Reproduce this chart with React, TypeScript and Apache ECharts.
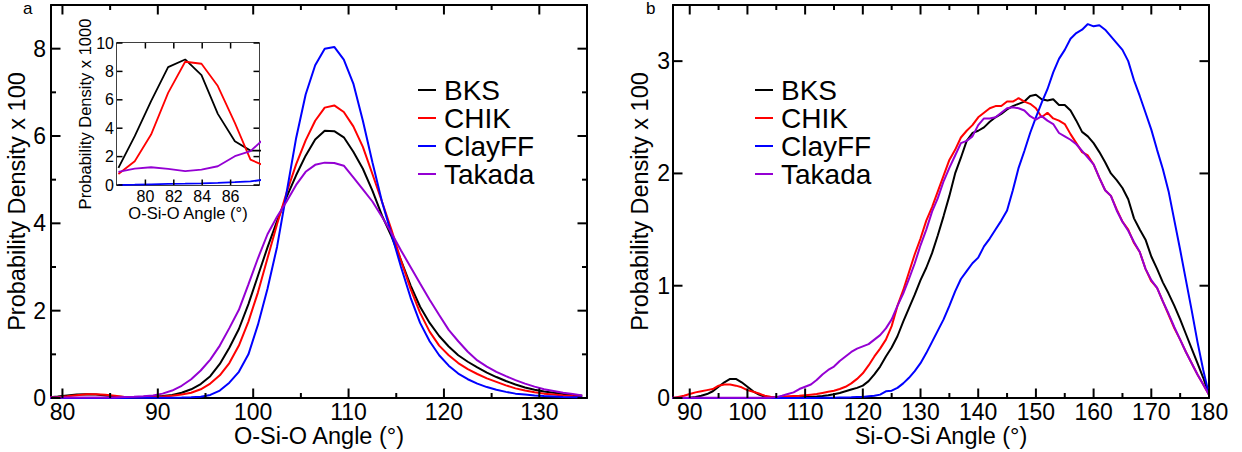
import React, { useEffect, useRef } from "react";
import * as echarts from "echarts";

const FONT = "'Liberation Sans', Arial, Helvetica, sans-serif";

const seriesNames = ["BKS", "CHIK", "ClayFF", "Takada"];
const seriesColors = ["#000000", "#ff0000", "#0000ff", "#9400d3"];

// ---- Panel a: O-Si-O angle distribution ----
const osioAngles = [
  78.5, 79.5, 80.5, 81.5, 82.5, 83.5, 84.5, 85.5, 86.5, 87.5, 88.5, 89.5, 90.5, 91.5, 92.5,
  93.5, 94.5, 95.5, 96.5, 97.5, 98.5, 99.5, 100.5, 101.5, 102.5, 103.5, 104.5, 105.5, 106.5, 107.5, 108.5,
  109.5, 110.5, 111.5, 112.5, 113.5, 114.5, 115.5, 116.5, 117.5, 118.5, 119.5, 120.5, 121.5, 122.5,
  123.5, 124.5, 125.5, 126.5, 127.5, 128.5, 129.5, 130.5, 131.5, 132.5, 133.5, 134.5,
];
const osioBKS = [
  0.015, 0.035, 0.06, 0.083, 0.088, 0.08, 0.058, 0.035, 0.025, 0.024, 0.026, 0.032, 0.045, 0.07, 0.12,
  0.2, 0.32, 0.5, 0.78, 1.15, 1.58, 2.15, 2.8, 3.45, 4.05, 4.6, 5.1, 5.55, 5.92, 6.12, 6.11,
  5.97, 5.64, 5.25, 4.75, 4.18, 3.7, 3.15, 2.58, 2.09, 1.72, 1.42, 1.18, 0.98, 0.83,
  0.7, 0.58, 0.48, 0.39, 0.31, 0.24, 0.19, 0.15, 0.12, 0.09, 0.07, 0.05,
];
const osioCHIK = [
  0.008, 0.02, 0.04, 0.064, 0.086, 0.086, 0.074, 0.05, 0.022, 0.015, 0.016, 0.022, 0.032, 0.05, 0.08,
  0.12, 0.2, 0.33, 0.52, 0.8, 1.2, 1.75, 2.42, 3.2, 3.98, 4.7, 5.35, 5.9, 6.35, 6.65, 6.7,
  6.55, 6.22, 5.75, 5.13, 4.5, 3.85, 3.15, 2.5, 1.95, 1.52, 1.2, 0.98, 0.8, 0.66,
  0.55, 0.45, 0.37, 0.29, 0.22, 0.17, 0.13, 0.1, 0.08, 0.06, 0.045, 0.035,
];
const osioClayFF = [
  0.0, 0.0, 0.0, 0.001, 0.001, 0.001, 0.001, 0.002, 0.002, 0.003, 0.004, 0.005, 0.006, 0.008, 0.01,
  0.015, 0.03, 0.07, 0.17, 0.35, 0.6, 1.0, 1.68, 2.5, 3.46, 4.7, 5.95, 6.95, 7.62, 8.0, 8.04,
  7.75, 7.2, 6.35, 5.4, 4.5, 3.75, 3.0, 2.3, 1.72, 1.3, 0.98, 0.74, 0.56, 0.43,
  0.33, 0.25, 0.19, 0.14, 0.1, 0.08, 0.06, 0.045, 0.035, 0.025, 0.02, 0.015,
];
const osioTakada = [
  0.009, 0.011, 0.012, 0.012, 0.011, 0.01, 0.011, 0.014, 0.021, 0.028, 0.04, 0.06, 0.1, 0.17, 0.28,
  0.43, 0.63, 0.88, 1.2, 1.6, 2.02, 2.6, 3.2, 3.75, 4.15, 4.5, 4.88, 5.18, 5.34, 5.39, 5.38,
  5.32, 5.05, 4.78, 4.5, 4.15, 3.78, 3.38, 3.0, 2.62, 2.25, 1.9, 1.56, 1.3, 1.06,
  0.86, 0.72, 0.6, 0.5, 0.41, 0.33, 0.26, 0.2, 0.16, 0.12, 0.09, 0.06,
];
const osioXTicks = [80, 90, 100, 110, 120, 130];
const osioXMinor = [85, 95, 105, 115, 125];
const osioYTicks = [0, 2, 4, 6, 8];
const osioYMinor = [1, 3, 5, 7];

// ---- Inset of panel a ----
const insetAngles = [78.1, 79.25, 80.4, 81.6, 82.8, 83.95, 85.1, 86.3, 87.4, 88.5];
const insetBKS = [1.2, 3.44, 5.9, 8.3, 8.84, 7.74, 5.01, 3.08, 2.42, 2.42];
const insetCHIK = [0.78, 1.67, 3.55, 6.49, 8.68, 8.54, 6.97, 4.38, 1.79, 1.3];
const insetClayFF = [0.0, 0.02, 0.05, 0.08, 0.1, 0.12, 0.15, 0.2, 0.25, 0.4];
const insetTakada = [0.92, 1.15, 1.25, 1.13, 0.97, 1.08, 1.32, 2.03, 2.38, 3.4];
const insetXTicks = [80, 82, 84, 86];
const insetYTicks = [0, 2, 4, 6, 8, 10];

// ---- Panel b: Si-O-Si angle distribution ----
const sioAngles = [
  87, 88, 89, 90, 91, 92, 93, 94, 95, 96,
  97, 98, 99, 100, 101, 102, 103, 104, 105, 106,
  107, 108, 109, 110, 111, 112, 113, 114, 115, 116,
  117, 118, 119, 120, 121, 122, 123, 124, 125, 126,
  127, 128, 129, 130, 131, 132, 133, 134, 135, 136,
  137, 138, 139, 140, 141, 142, 143, 144, 145, 146,
  147, 148, 149, 150, 151, 152, 153, 154, 155, 156,
  157, 158, 159, 160, 161, 162, 163, 164, 165, 166,
  167, 168, 169, 170, 171, 172, 173, 174, 175, 176,
  177, 178, 179, 180,
];
const sioBKS = [
  0, 0, 0.001, 0.003, 0.01, 0.02, 0.035, 0.06, 0.1, 0.14,
  0.17, 0.17, 0.14, 0.1, 0.06, 0.03, 0.012, 0.005, 0.003, 0.003,
  0.004, 0.005, 0.006, 0.008, 0.01, 0.013, 0.017, 0.024, 0.033, 0.045,
  0.06, 0.075, 0.09, 0.11, 0.15, 0.21, 0.28, 0.37, 0.45, 0.55,
  0.68, 0.8, 0.92, 1.05, 1.16, 1.29, 1.45, 1.62, 1.8, 2.0,
  2.14, 2.29, 2.36, 2.38, 2.41, 2.46, 2.5, 2.53, 2.57, 2.6,
  2.62, 2.64, 2.69, 2.7, 2.66, 2.65, 2.66, 2.61, 2.61, 2.56,
  2.47, 2.37, 2.33, 2.27, 2.19, 2.1, 2.0, 1.94, 1.87, 1.77,
  1.6, 1.5, 1.41, 1.26, 1.15, 1.03, 0.93, 0.82, 0.7, 0.57,
  0.44, 0.31, 0.18, 0.03,
];
const sioCHIK = [
  0, 0.01, 0.02, 0.035, 0.05, 0.06, 0.07, 0.08, 0.11, 0.12,
  0.12, 0.11, 0.095, 0.07, 0.055, 0.04, 0.02, 0.012, 0.01, 0.012,
  0.015, 0.018, 0.02, 0.025, 0.03, 0.035, 0.045, 0.055, 0.065, 0.08,
  0.1, 0.13, 0.17, 0.22, 0.29, 0.37, 0.44, 0.52, 0.64, 0.82,
  0.96, 1.12, 1.28, 1.42, 1.58, 1.7, 1.84, 1.98, 2.12, 2.21,
  2.32, 2.38, 2.43, 2.5, 2.54, 2.58, 2.6, 2.6, 2.64, 2.64,
  2.67, 2.64, 2.62, 2.58, 2.5, 2.54, 2.49, 2.47, 2.44, 2.35,
  2.27, 2.19, 2.16, 2.08, 1.96, 1.85, 1.8, 1.68, 1.57, 1.5,
  1.38, 1.3, 1.15, 1.04, 0.98, 0.86, 0.74, 0.62, 0.52, 0.41,
  0.31, 0.21, 0.12, 0.03,
];
const sioClayFF = [
  0, 0, 0, 0, 0, 0, 0, 0, 0, 0,
  0, 0, 0, 0, 0, 0, 0, 0, 0, 0,
  0, 0, 0, 0, 0.001, 0.001, 0.002, 0.002, 0.003, 0.004,
  0.005, 0.006, 0.008, 0.01, 0.015, 0.02, 0.03, 0.06, 0.065, 0.09,
  0.13, 0.18, 0.24, 0.31, 0.4, 0.5, 0.6, 0.7, 0.82, 0.95,
  1.06, 1.13, 1.2, 1.25, 1.35, 1.42, 1.5, 1.58, 1.67, 1.85,
  2.05, 2.2, 2.36, 2.5, 2.63, 2.75, 2.9, 3.02, 3.1, 3.2,
  3.25, 3.28, 3.33, 3.31, 3.32, 3.28, 3.22, 3.16, 3.1, 3.0,
  2.83, 2.69, 2.54, 2.39, 2.21, 2.04, 1.84, 1.58, 1.32, 1.05,
  0.78, 0.5, 0.25, 0.03,
];
const sioTakada = [
  0.003, 0.003, 0.003, 0.003, 0.003, 0.003, 0.003, 0.003, 0.003, 0.003,
  0.003, 0.003, 0.003, 0.003, 0.003, 0.003, 0.003, 0.003, 0.008, 0.02,
  0.035, 0.05, 0.08, 0.1, 0.12, 0.16, 0.21, 0.25, 0.28, 0.33,
  0.37, 0.41, 0.44, 0.46, 0.48, 0.52, 0.56, 0.62, 0.7, 0.82,
  0.93, 1.06, 1.2, 1.36, 1.5, 1.66, 1.78, 1.93, 2.05, 2.16,
  2.27, 2.29, 2.33, 2.43, 2.49, 2.49, 2.5, 2.54, 2.58, 2.59,
  2.58, 2.56, 2.51, 2.48, 2.51, 2.47, 2.44, 2.36, 2.33, 2.3,
  2.26, 2.2, 2.14, 2.08, 1.96, 1.85, 1.8, 1.67, 1.57, 1.49,
  1.39, 1.3, 1.15, 1.05, 0.98, 0.86, 0.75, 0.63, 0.52, 0.41,
  0.31, 0.21, 0.12, 0.03,
];
const sioXTicks = [90, 100, 110, 120, 130, 140, 150, 160, 170, 180];
const sioXMinor = [95, 105, 115, 125, 135, 145, 155, 165, 175];
const sioYTicks = [0, 1, 2, 3];
const sioYMinor: number[] = [];

type Style = {
  lw: number; fs: number; margin: number; name: string; nameGap: number; nfs: number;
};

function frameAxes(dim: "x" | "y", g: number, min: number, max: number, labels: number[], st: Style) {
  const posA = dim === "x" ? "bottom" : "left";
  const posB = dim === "x" ? "top" : "right";
  const base = {
    type: "value", gridIndex: g, min, max, splitLine: { show: false },
    axisTick: { show: false }, minorTick: { show: false }, nameMoveOverlap: false,
  };
  const line = { show: true, onZero: false, lineStyle: { color: "#000", width: st.lw } };
  return [
    {
      ...base, position: posA, axisLine: line,
      axisLabel: {
        show: true, customValues: labels, fontSize: st.fs, lineHeight: st.fs,
        fontFamily: FONT, color: "#000", margin: st.margin,
      },
      name: st.name, nameLocation: "middle", nameGap: st.nameGap, nameRotate: dim === "y" ? 90 : 0,
      nameTextStyle: { fontSize: st.nfs, lineHeight: st.nfs, fontFamily: FONT, color: "#000" },
    },
    { ...base, position: posB, axisLine: line, axisLabel: { show: false } },
  ];
}

// Inward tick marks on all four sides of a frame, drawn as thin rect symbols placed by the axes' scales.
function tickSeries(g: number, xr: number[], yr: number[], xMaj: number[], xMin: number[],
  yMaj: number[], yMin: number[], L: number, Lm: number, tw: number) {
  const items: any[] = [];
  const addX = (vals: number[], len: number) => vals.forEach((v) => {
    items.push({ value: [v, yr[0]], symbolSize: [tw, len], symbolOffset: [0, -len / 2] });
    items.push({ value: [v, yr[1]], symbolSize: [tw, len], symbolOffset: [0, len / 2] });
  });
  const addY = (vals: number[], len: number) => vals.forEach((v) => {
    items.push({ value: [xr[0], v], symbolSize: [len, tw], symbolOffset: [len / 2, 0] });
    items.push({ value: [xr[1], v], symbolSize: [len, tw], symbolOffset: [-len / 2, 0] });
  });
  addX(xMaj, L); addX(xMin, Lm); addY(yMaj, L); addY(yMin, Lm);
  return {
    type: "scatter", xAxisIndex: g * 2, yAxisIndex: g * 2, data: items, symbol: "rect",
    clip: false, silent: true, z: 8, itemStyle: { color: "#000000", opacity: 1 },
    emphasis: { disabled: true },
  };
}

function zip(xs: number[], ys: number[]) {
  return xs.map((x, i) => [x, ys[i]]);
}

function lines(g: number, xs: number[], sets: number[][]) {
  return sets.map((ys, i) => ({
    name: seriesNames[i],
    type: "line",
    xAxisIndex: g * 2,
    yAxisIndex: g * 2,
    data: zip(xs, ys),
    showSymbol: false,
    symbol: "none",
    clip: true,
    color: seriesColors[i],
    lineStyle: { color: seriesColors[i], width: g === 2 ? 1.8 : 2 },
    z: g === 2 ? 5 : 2,
  }));
}

function legendAt(left: number) {
  return {
    left, top: 76, padding: 0, orient: "vertical", data: seriesNames, icon: "rect",
    itemWidth: 18, itemHeight: 2, itemGap: 0, selectedMode: false,
    textStyle: { fontSize: 28, lineHeight: 27, fontFamily: FONT, color: "#000", padding: [0, 0, 0, 3] },
  };
}

export default function App() {
  const ref = useRef<HTMLDivElement>(null);
  useEffect(() => {
    if (!ref.current) return;
    const chart = echarts.init(ref.current, undefined, { renderer: "svg" });
    const mainStyle = { lw: 2, fs: 23, nfs: 23.5 };
    const insetStyle = { lw: 1.5, fs: 16, nfs: 16.5 };
    const xAxis = [
      ...frameAxes("x", 0, 78.8, 135, osioXTicks,
        { ...mainStyle, margin: 2, name: "O-Si-O Angle (°)", nameGap: 26 }),
      ...frameAxes("x", 1, 87.1, 180, sioXTicks,
        { ...mainStyle, margin: 2, name: "Si-O-Si Angle (°)", nameGap: 26 }),
      ...frameAxes("x", 2, 78, 88, insetXTicks,
        { ...insetStyle, margin: 3, name: "O-Si-O Angle (°)", nameGap: 20 }),
    ];
    const yAxis = [
      ...frameAxes("y", 0, 0, 9, osioYTicks,
        { ...mainStyle, margin: 5, name: "Probability Density x 100", nameGap: 22 }),
      ...frameAxes("y", 1, 0, 3.5, sioYTicks,
        { ...mainStyle, margin: 3, name: "Probability Density x 100", nameGap: 21 }),
      ...frameAxes("y", 2, 0, 10, insetYTicks,
        { ...insetStyle, margin: 3, name: "Probability Density x 1000", nameGap: 24 }),
    ];
    chart.setOption({
      animation: false,
      backgroundColor: "#ffffff",
      textStyle: { fontFamily: FONT },
      grid: [
        { left: 51, top: 5, width: 536, height: 393, outerBoundsMode: "none", containLabel: false },
        { left: 673, top: 5, width: 536, height: 393, outerBoundsMode: "none", containLabel: false },
        {
          left: 117, top: 43, width: 142, height: 142, outerBoundsMode: "none", containLabel: false,
          show: true, backgroundColor: "#ffffff", borderWidth: 0, z: 4,
        },
      ],
      xAxis,
      yAxis,
      legend: [legendAt(418), legendAt(755)],
      graphic: [
        { type: "text", left: 23, top: 0, style: { text: "a", fontSize: 17, fontFamily: FONT, fill: "#000" } },
        { type: "text", left: 646, top: 0, style: { text: "b", fontSize: 17, fontFamily: FONT, fill: "#000" } },
      ],
      series: [
        ...lines(0, osioAngles, [osioBKS, osioCHIK, osioClayFF, osioTakada]),
        ...lines(1, sioAngles, [sioBKS, sioCHIK, sioClayFF, sioTakada]),
        ...lines(2, insetAngles, [insetBKS, insetCHIK, insetClayFF, insetTakada]),
        tickSeries(0, [78.8, 135], [0, 9], osioXTicks, osioXMinor, osioYTicks, osioYMinor, 9.5, 5, 2),
        tickSeries(1, [87.1, 180], [0, 3.5], sioXTicks, sioXMinor, sioYTicks, sioYMinor, 9.5, 5, 2),
        tickSeries(2, [78, 88], [0, 10], insetXTicks, [], insetYTicks, [], 5.5, 3, 1.5),
      ],
    });
    return () => chart.dispose();
  }, []);
  return (
    <div
      ref={ref}
      style={{ position: "fixed", left: 0, top: 0, width: 1242, height: 452, background: "#fff" }}
    />
  );
}
